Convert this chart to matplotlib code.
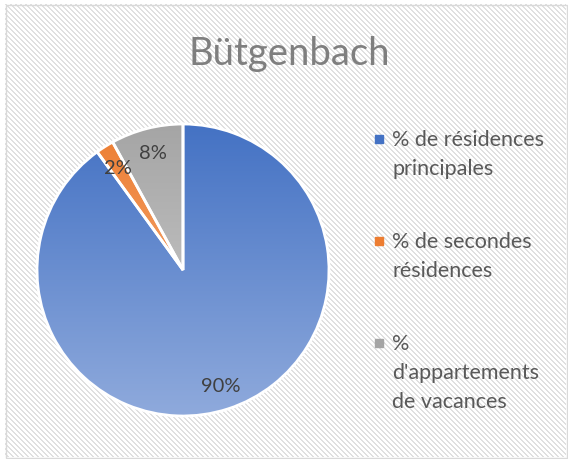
import numpy as np
import matplotlib
matplotlib.use('Agg')
import matplotlib.pyplot as plt
from matplotlib.colors import LinearSegmentedColormap
from matplotlib.patches import Rectangle

plt.rcParams['font.family'] = ['Lato', 'DejaVu Sans']

# Chart data
title = 'Bütgenbach'
categories = ['% de résidences\nprincipales',
              '% de secondes\nrésidences',
              "%\nd'appartements\nde vacances"]
shares = [90, 2, 8]
top_colors = ['#4472C4', '#ED7D31', '#A5A5A5']
bottom_colors = ['#8FAADC', '#F6B88E', '#D2D2D2']

W, H = 568, 460
fig = plt.figure(figsize=(W / 100, H / 100), dpi=100)

# Striped chart-area background with a thin grey frame
bg = fig.add_axes([5 / W, 1 - 458 / H, 561 / W, 453 / H])
yy, xx = np.mgrid[0:453, 0:561]
stripes = ((xx - yy) % 5) < 2
img = np.where(stripes[..., None], 0.88, 1.0) * np.ones(3)
bg.imshow(img, interpolation='nearest', aspect='auto')
bg.set_axis_off()
fig.add_artist(Rectangle((5.5 / W, 1 - 458.5 / H), 561 / W, 453 / H, fill=False,
                         edgecolor='#d9d9d9', lw=1, transform=fig.transFigure))

# Pie
cx, cy, r = 183, 271, 146
pad = 1.03
ax = fig.add_axes([(cx - r * pad) / W, 1 - (cy + r * pad) / H, 2 * r * pad / W, 2 * r * pad / H])
wedges, texts, autotexts = ax.pie(
    shares, startangle=90, counterclock=False, autopct='%.0f%%', pctdistance=0.83,
    wedgeprops=dict(edgecolor='white', linewidth=2),
    textprops=dict(color='#404040', fontsize=14.5))

# Vertical gradient fill for each slice
grad = np.linspace(0, 1, 256).reshape(-1, 1)
for w, c0, c1 in zip(wedges, top_colors, bottom_colors):
    cmap = LinearSegmentedColormap.from_list('slice', [c0, c1])
    im = ax.imshow(grad, cmap=cmap, extent=(-1, 1, -1, 1), origin='upper',
                   aspect='auto', zorder=0.5)
    im.set_clip_path(w)
    w.set_facecolor('none')
    w.set_zorder(1)

ax.set_xlim(-pad, pad)
ax.set_ylim(-pad, pad)
ax.set_aspect('equal')
ax.set_axis_off()

# Title
fig.text(289 / W, 1 - 54 / H, title, ha='center', va='center', fontsize=27.5, color='#7f7f7f')

# Legend
y = 140
line_h = 29
for cat, c0, c1 in zip(categories, top_colors, bottom_colors):
    lines = cat.split('\n')
    fig.add_artist(Rectangle((375 / W, 1 - (y + 4) / H), 8 / W, 8 / H, color=c0,
                             transform=fig.transFigure))
    for i, line in enumerate(lines):
        fig.text(392 / W, 1 - (y + i * line_h) / H, line, ha='left', va='center',
                 fontsize=15.5, color='#595959')
    y += len(lines) * line_h + 44

plt.savefig('out.png', dpi=100)
